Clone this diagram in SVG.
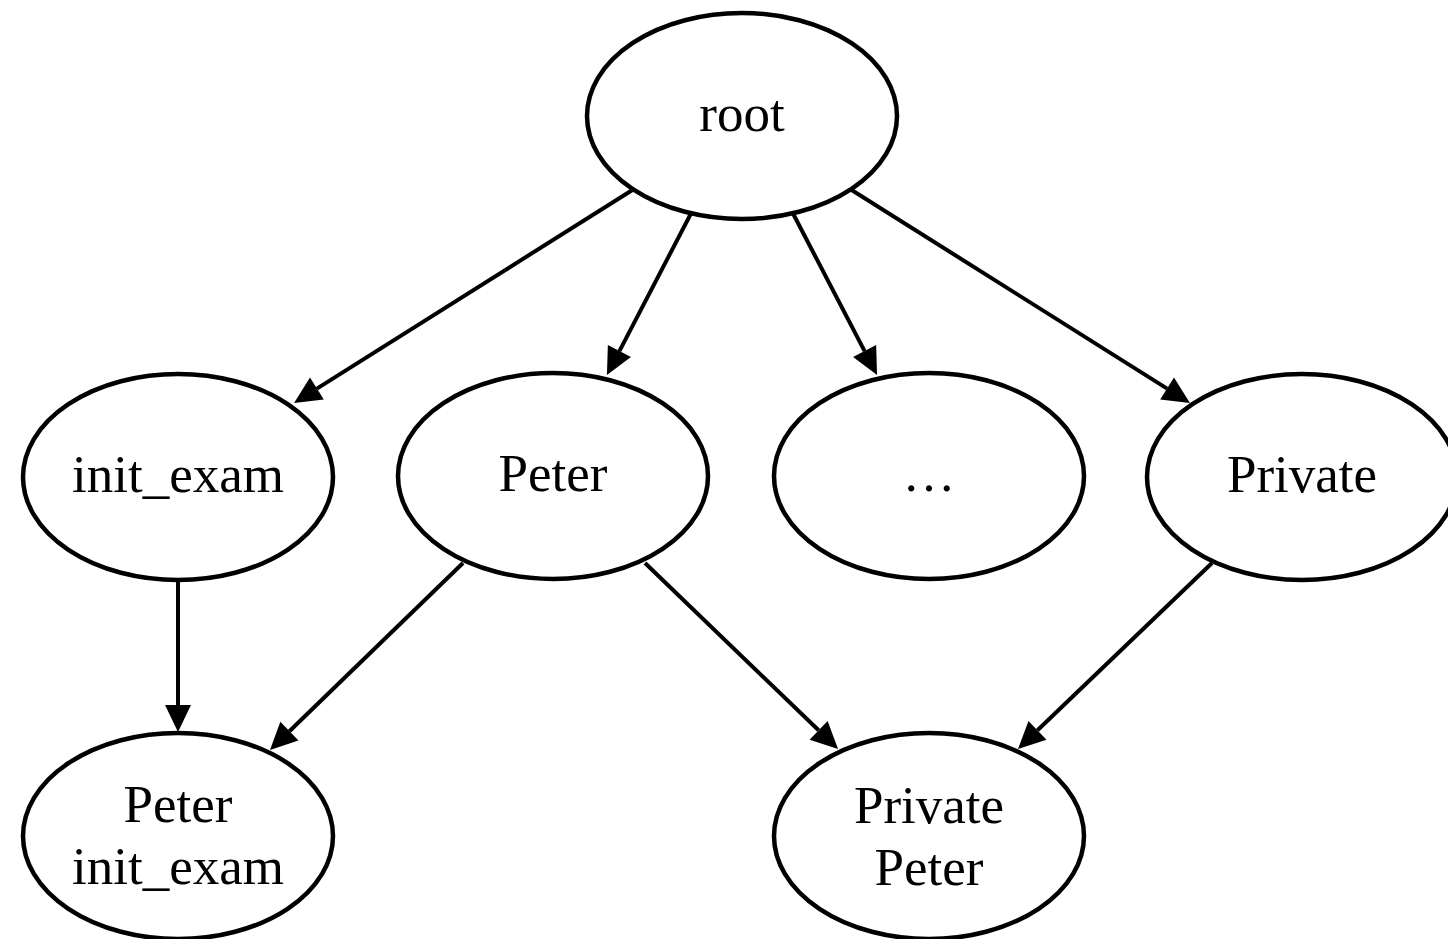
<svg xmlns="http://www.w3.org/2000/svg" width="1448" height="939" viewBox="0 0 1448 939">
  <style>
    .node ellipse { fill: #ffffff; stroke: #000000; stroke-width: 4.5; }
    .node text { font-family: "Liberation Serif", "Times New Roman", serif; font-size: 53px; fill: #000000; text-anchor: middle; }
    .edge line { stroke: #000000; stroke-width: 4; fill: none; marker-end: url(#arrow); }
  </style>
  <defs>
    <marker id="arrow" markerUnits="userSpaceOnUse" markerWidth="28" markerHeight="28" refX="0" refY="13" orient="auto" overflow="visible">
      <path d="M0,0 L27,13 L0,26 Z" fill="#000000"/>
    </marker>
  </defs>
  <rect width="1448" height="939" fill="#ffffff"/>

  <!-- connectors: each line stops at the arrowhead base, the marker carries it to the node -->
  <g id="edges" class="edge">
    <line id="e-root-init" x1="634" y1="189" x2="316.9" y2="388.6"/>
    <line id="e-root-peter" x1="691.5" y1="212.5" x2="619.4" y2="351.1"/>
    <line id="e-root-dots" x1="792.5" y1="212.5" x2="864.6" y2="351.1"/>
    <line id="e-root-private" x1="850" y1="189" x2="1167.1" y2="388.6"/>
    <line id="e-init-peterinit" x1="178" y1="579" x2="178" y2="705"/>
    <line id="e-peter-peterinit" x1="463" y1="563" x2="289.4" y2="731.2"/>
    <line id="e-peter-privpeter" x1="645" y1="563" x2="818.6" y2="730.3"/>
    <line id="e-private-privpeter" x1="1212" y1="563" x2="1037.5" y2="730.3"/>
  </g>

  <g id="node-root" class="node">
    <ellipse cx="742" cy="116" rx="155" ry="103"/>
    <text x="742" y="131">root</text>
  </g>
  <g id="node-init-exam" class="node">
    <ellipse cx="178" cy="477" rx="155" ry="103"/>
    <text x="178" y="492">init_exam</text>
  </g>
  <g id="node-peter" class="node">
    <ellipse cx="553" cy="476" rx="155" ry="103"/>
    <text x="553" y="491">Peter</text>
  </g>
  <g id="node-more" class="node">
    <ellipse cx="929" cy="476" rx="155" ry="103"/>
    <text x="929" y="491">…</text>
  </g>
  <g id="node-private" class="node">
    <ellipse cx="1302" cy="477" rx="155" ry="103"/>
    <text x="1302" y="492">Private</text>
  </g>
  <g id="node-peter-init-exam" class="node">
    <ellipse cx="178" cy="836" rx="155" ry="103"/>
    <text x="178" y="822">Peter</text>
    <text x="178" y="884">init_exam</text>
  </g>
  <g id="node-private-peter" class="node">
    <ellipse cx="929" cy="836" rx="155" ry="103"/>
    <text x="929" y="823">Private</text>
    <text x="929" y="885">Peter</text>
  </g>
</svg>
